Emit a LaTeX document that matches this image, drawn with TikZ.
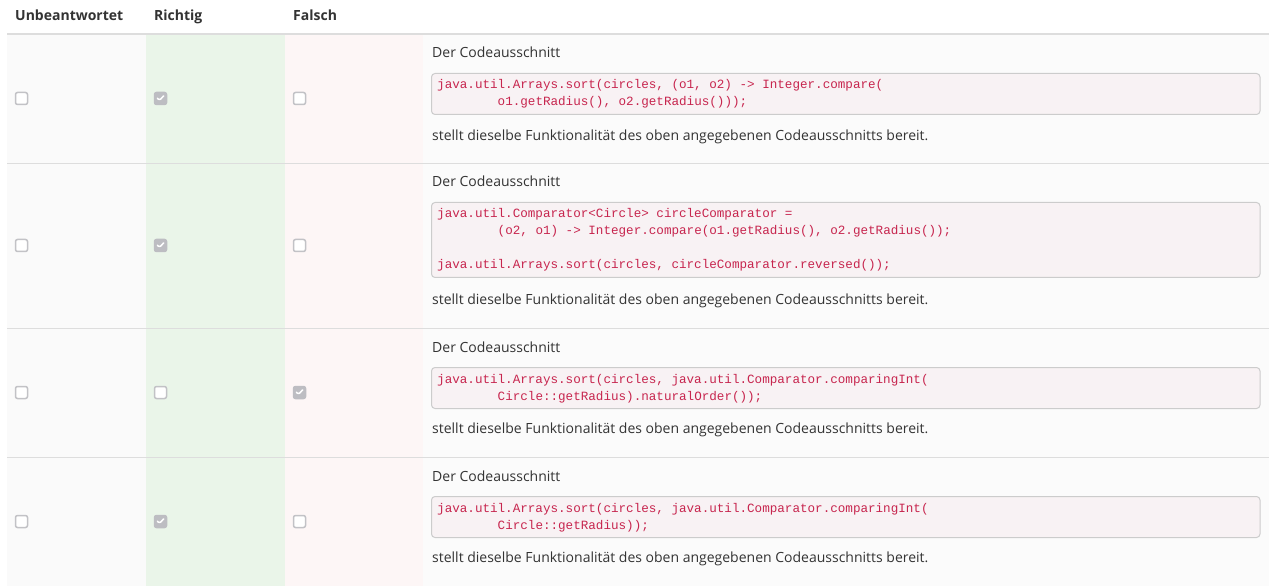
\documentclass[tikz,border=0pt]{standalone}
\usepackage{fontspec}
\setmainfont{Open Sans}
\newfontfamily\codefont{Liberation Mono}
\definecolor{txt}{HTML}{333333}
\definecolor{codered}{HTML}{C7254E}
\definecolor{codebg}{HTML}{F8F2F4}
\definecolor{codeborder}{HTML}{CCCCCC}
\definecolor{rule}{HTML}{DDDDDD}
\definecolor{colA}{HTML}{FAFAFA}
\definecolor{colG}{HTML}{EAF5E9}
\definecolor{colR}{HTML}{FDF6F6}
\definecolor{colC}{HTML}{FBFBFB}
\definecolor{cbborder}{HTML}{C2C2C6}
\definecolor{cbfill}{HTML}{BDBDC2}
\tikzset{
  headtext/.style={anchor=base west, inner sep=0pt, text=txt, font=\fontsize{14}{17}\selectfont\bfseries},
  bodytext/.style={anchor=base west, inner sep=0pt, text=txt, font=\fontsize{14}{17}\selectfont},
  codeline/.style={anchor=base west, inner sep=0pt, text=codered, font=\codefont\fontsize{12.6}{17}\selectfont},
  codebox/.style={draw=codeborder, fill=codebg, rounded corners=3.5pt, line width=1pt},
  cbox/.style={rectangle, draw=cbborder, fill=white, line width=1.5pt, rounded corners=2pt, minimum width=12pt, minimum height=12pt, inner sep=0pt},
  cboxon/.style={cbox, fill=cbfill, draw=cbfill,
    path picture={\draw[white, line width=1.5pt, line cap=round, line join=round]
      ([xshift=-3.2pt,yshift=0.3pt]path picture bounding box.center) -- ++(2.2pt,-2.2pt) -- ++(4.2pt,4.6pt);}},
  hrule/.style={draw=rule, line width=1pt},
  hrulethick/.style={draw=rule, line width=2pt}
}
\newcommand{\ind}{\hspace*{60.5pt}}
\begin{document}
\begin{tikzpicture}[x=1pt, y=-1pt]
\useasboundingbox (0,0) rectangle (1278,588);
\fill[white] (0,0) rectangle (1278,588);
% column backgrounds
\fill[colA] (7,34) rectangle (146,586);
\fill[colG] (146,34) rectangle (285,586);
\fill[colR] (285,34) rectangle (423,586);
\fill[colC] (423,34) rectangle (1269,586);
% header
\node[headtext] (h1) at (15,21) {Unbeantwortet};
\node[headtext] (h2) at (154,21) {Richtig};
\node[headtext] (h3) at (293,21) {Falsch};
\draw[hrulethick] (7,34) -- (1269,34);
\draw[hrule] (7,163.5) -- (1269,163.5);
\draw[hrule] (7,328.5) -- (1269,328.5);
\draw[hrule] (7,457.5) -- (1269,457.5);

% row 1
\node[cbox] (r1a) at (21.5,98.5) {};
\node[cboxon] (r1b) at (160.5,98.5) {};
\node[cbox] (r1c) at (299.5,98.5) {};
\node[bodytext] (t1a) at (432,58) {Der Codeausschnitt};
\draw[codebox] (431.5,73.5) rectangle (1260,114.5);
\node[codeline] (c1a) at (437,89) {java.util.Arrays.sort(circles, (o1, o2) -> Integer.compare(};
\node[codeline] (c1b) at (437,106) {\ind o1.getRadius(), o2.getRadius()));};
\node[bodytext] (t1b) at (432,140.5) {stellt dieselbe Funktionalität des oben angegebenen Codeausschnitts bereit.};

% row 2
\node[cbox] (r2a) at (21.5,245.5) {};
\node[cboxon] (r2b) at (160.5,245.5) {};
\node[cbox] (r2c) at (299.5,245.5) {};
\node[bodytext] (t2a) at (432,187) {Der Codeausschnitt};
\draw[codebox] (431.5,202.5) rectangle (1260,277.5);
\node[codeline] (c2a) at (437,218) {java.util.Comparator<Circle> circleComparator =};
\node[codeline] (c2b) at (437,235) {\ind (o2, o1) -> Integer.compare(o1.getRadius(), o2.getRadius());};
\node[codeline] (c2c) at (437,269) {java.util.Arrays.sort(circles, circleComparator.reversed());};
\node[bodytext] (t2b) at (432,304.5) {stellt dieselbe Funktionalität des oben angegebenen Codeausschnitts bereit.};

% row 3
\node[cbox] (r3a) at (21.5,392.5) {};
\node[cbox] (r3b) at (160.5,392.5) {};
\node[cboxon] (r3c) at (299.5,392.5) {};
\node[bodytext] (t3a) at (432,352.5) {Der Codeausschnitt};
\draw[codebox] (431.5,367.5) rectangle (1260,408.5);
\node[codeline] (c3a) at (437,383) {java.util.Arrays.sort(circles, java.util.Comparator.comparingInt(};
\node[codeline] (c3b) at (437,400) {\ind Circle::getRadius).naturalOrder());};
\node[bodytext] (t3b) at (432,433.5) {stellt dieselbe Funktionalität des oben angegebenen Codeausschnitts bereit.};

% row 4
\node[cbox] (r4a) at (21.5,521.5) {};
\node[cboxon] (r4b) at (160.5,521.5) {};
\node[cbox] (r4c) at (299.5,521.5) {};
\node[bodytext] (t4a) at (432,481) {Der Codeausschnitt};
\draw[codebox] (431.5,496.5) rectangle (1260,537.5);
\node[codeline] (c4a) at (437,512) {java.util.Arrays.sort(circles, java.util.Comparator.comparingInt(};
\node[codeline] (c4b) at (437,529) {\ind Circle::getRadius));};
\node[bodytext] (t4b) at (432,562.5) {stellt dieselbe Funktionalität des oben angegebenen Codeausschnitts bereit.};
\end{tikzpicture}
\end{document}
